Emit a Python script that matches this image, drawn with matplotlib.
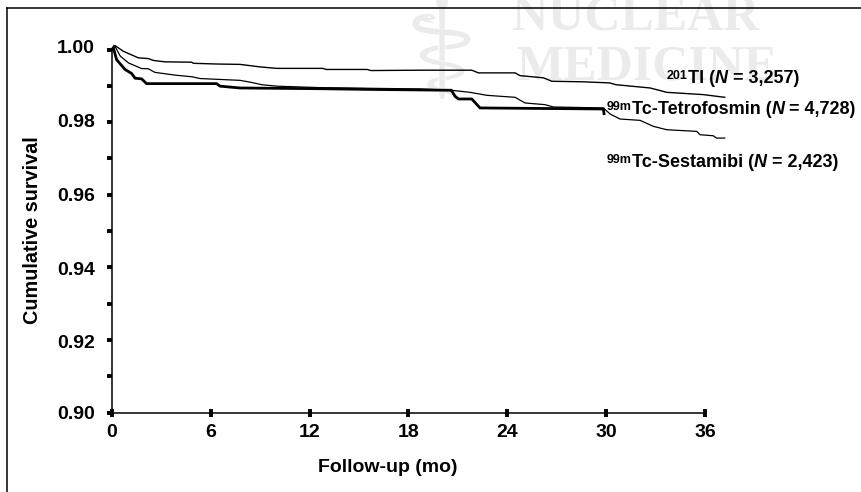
import matplotlib
matplotlib.use("Agg")
import matplotlib.pyplot as plt
from matplotlib.lines import Line2D
from matplotlib.transforms import ScaledTranslation

plt.rcParams["font.family"] = ["Liberation Sans", "DejaVu Sans"]
plt.rcParams["font.weight"] = "bold"

W, H = 862, 492

tl_months = [0, 0.18, 0.69, 1.6, 2.2, 2.5, 3.2, 4.84, 4.94, 6.35, 7.77, 9.0, 10.0, 12.8, 13.0,
             15.5, 15.7, 18.7, 21.84, 22.24, 24.47, 24.77, 26.19, 26.7, 28.6, 30.2, 30.6,
             32.67, 33.68, 35.9, 37.2]
tl_surv = [1.0, 1.0011, 0.9995, 0.9977, 0.9975, 0.997, 0.9966, 0.9965, 0.9962, 0.996, 0.9959,
           0.9952, 0.9948, 0.9948, 0.9945, 0.9945, 0.9942, 0.9943, 0.9943, 0.99356, 0.99356,
           0.9928, 0.9922, 0.99125, 0.9911, 0.9908, 0.9903, 0.9894, 0.9882, 0.98757, 0.98683]

sesta_months = [0, 0.18, 0.5, 1.0, 1.8, 2.2, 2.6, 3.9, 4.84, 5.35, 7.77, 8.4, 9.1, 10.0, 12.6,
                18.7, 20.6, 21.74, 22.75, 24.47, 25.08, 26.3, 26.8, 29.83, 30.24, 30.84,
                32.06, 32.87, 33.68, 35.5, 35.7, 36.5, 36.7, 37.2]
sesta_surv = [1.0, 1.0009, 0.9982, 0.9963, 0.99475, 0.9947, 0.9937, 0.9929, 0.9925, 0.992,
              0.9915, 0.991, 0.9903, 0.9899, 0.9895, 0.98913, 0.98877, 0.9882, 0.98738, 0.98683,
              0.98527, 0.9848, 0.98416, 0.9839, 0.98223, 0.98085, 0.98048, 0.97882, 0.9779,
              0.97744, 0.97652, 0.97624, 0.9756, 0.9756]

tetro_months = [0, 0.08, 0.28, 0.79, 1.19, 1.4, 1.8, 2.1, 6.35, 6.56, 7.77, 12.6, 15.7, 18.7,
                20.6, 20.83, 21.03, 21.84, 22.34, 27.6, 29.83, 29.87]
tetro_surv = [1.0, 1.0005, 0.9972, 0.9945, 0.9934, 0.9921, 0.9919, 0.9906, 0.9906, 0.9899,
              0.9894, 0.9892, 0.989, 0.98886, 0.98877, 0.98711, 0.98637, 0.98637, 0.9839,
              0.9837, 0.98361, 0.98232]

x_ticks = [0, 6, 12, 18, 24, 30, 36]
y_major = [0.90, 0.92, 0.94, 0.96, 0.98, 1.00]
y_minor = [0.91, 0.93, 0.95, 0.97, 0.99]

fig = plt.figure(figsize=(W / 100, H / 100), dpi=100)
ax = fig.add_axes([112 / W, 1 - 412.5 / H, (705 - 112) / W, (412.5 - 49.5) / H])
ax.patch.set_alpha(0)


def px_text(x, y, s, **kw):
    return fig.text(x / W, 1 - y / H, s, **kw)


def series_label(x, y, sup, name, n):
    # baseline-aligned pieces, each starting where the last one ended
    renderer = fig.canvas.get_renderer()
    pieces = []
    if sup:
        pieces.append((sup, 9, "normal", 4))
    pieces += [(name + " (", 13, "normal", 0), ("N", 13, "italic", 0), (" = " + n + ")", 13, "normal", 0)]
    for s, size, style, rise in pieces:
        t = px_text(x, y - rise, s, fontsize=size, style=style, va="baseline")
        # trailing spaces are not measured, so measure with a stand-in dot
        t.set_text(s + ".")
        dot = px_text(0, 0, ".", fontsize=size, style=style)
        x += t.get_window_extent(renderer).width - dot.get_window_extent(renderer).width
        dot.remove()
        t.set_text(s)


# faint journal watermark behind the plot
wm = dict(color="#ebebeb", family="Liberation Serif", fontweight="bold", fontsize=36, zorder=-1, va="center")
px_text(512, 18, "NUCLEAR", **wm)
px_text(516, 67, "MEDICINE", **wm)
px_text(441, 60, "\u2695", color="#ebebeb", family="DejaVu Sans", fontsize=100, zorder=-1, ha="center", va="center")

ax.plot(tl_months, tl_surv, color="black", lw=1.0, clip_on=False)
ax.plot(sesta_months, sesta_surv, color="black", lw=0.9, clip_on=False)
ax.plot(tetro_months, tetro_surv, color="black", lw=2.0, clip_on=False, solid_joinstyle="miter")

ax.set_xlim(0, 36)
ax.set_ylim(0.90, 1.00)
ax.set_xticks(x_ticks)
ax.set_yticks(y_major)
ax.set_yticks(y_minor, minor=True)
ax.set_yticklabels(["%.2f" % v for v in y_major])
ax.tick_params(axis="y", which="both", direction="out", length=3.5, width=2.8, labelsize=14, pad=9)
ax.tick_params(axis="x", direction="inout", length=6, width=2.8, labelsize=14, pad=5)
for side in ["top", "right"]:
    ax.spines[side].set_visible(False)
for side in ["left", "bottom"]:
    ax.spines[side].set_linewidth(1.1)

# the printed labels do not sit quite level with their ticks
label_nudge = [0, -2, -1.5, 0, 1.5, 3]
for lab, dy in zip(ax.get_yticklabels(), label_nudge):
    lab.set_transform(lab.get_transform() + ScaledTranslation(0, dy / 100, fig.dpi_scale_trans))

px_text(388, 468, "Follow-up (mo)", ha="center", va="center", fontsize=14)
px_text(33, 230, "Cumulative survival", ha="center", va="center", rotation=90, fontsize=14.3)

series_label(667, 83, "201", "Tl", "3,257")
series_label(607, 114, "99m", "Tc-Tetrofosmin", "4,728")
series_label(607, 167, "99m", "Tc-Sestamibi", "2,423")

# page frame, open on the right and at the bottom
fig.add_artist(Line2D([7 / W, 1], [1 - 8 / H, 1 - 8 / H], color="black", lw=1.1))
fig.add_artist(Line2D([7 / W, 7 / W], [0, 1 - 8 / H], color="black", lw=1.1))

fig.savefig("out.png", dpi=100)
